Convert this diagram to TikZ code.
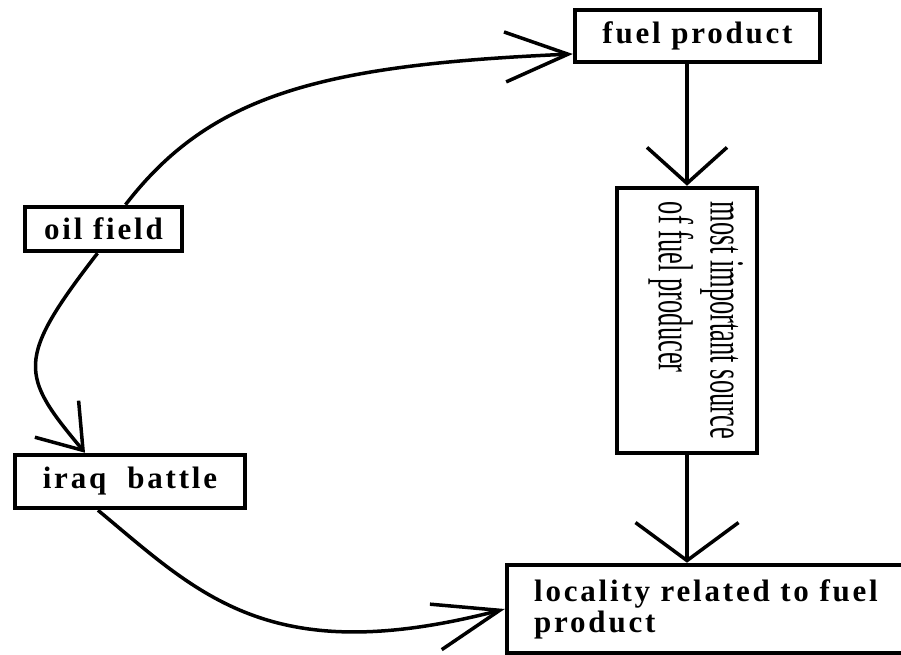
\documentclass[tikz,border=0pt]{standalone}
\usepackage{fontspec}
\setmainfont{Liberation Serif}
\newfontfamily\boxfont[LetterSpace=9]{Liberation Serif}
\usepackage{tikz}
\usetikzlibrary{arrows.meta}
\tikzset{
  fuelbox/.style={draw, line width=4.5pt, fill=white, inner sep=0pt,
                  font=\boxfont\bfseries\fontsize{31}{31}\selectfont},
  fuelsrc/.style={fuelbox, font=\rmfamily\mdseries\fontsize{26.5}{28}\selectfont},
  fuellink/.style={line width=3.5pt, -{Straight Barb[length=36pt, width=80pt]}},
}

\begin{document}
\begin{tikzpicture}[x=1pt, y=1pt]
\useasboundingbox (0,0) rectangle (901,655);
\clip (0,0) rectangle (901,655);
\node[fuelbox, minimum width=157pt, minimum height=44pt] (oil) at (103.5,426) {oil field};
\node[fuelbox, minimum width=230pt, minimum height=53pt] (iraq) at (130,173.5) {iraq\ \ battle};
\node[fuelbox, minimum width=245pt, minimum height=52pt] (fuel) at (697.5,619) {fuel product};
\node[fuelsrc, minimum width=140pt, minimum height=265pt] (src) at (687,334.5)
  {\hspace*{16pt}\rotatebox{-90}{\scalebox{1}[1.85]{\begin{tabular}{@{}l@{}}most important source\\ of fuel producer\end{tabular}}}};
\node[fuelbox, minimum width=398pt, minimum height=88pt, align=left] (loc) at (706,46) {locality related to fuel\\product};

\draw[fuellink, -{Straight Barb[length=63pt, width=50pt]}] ([xshift=22pt]oil.north) .. controls (210,560) and (320,590) .. ([yshift=-18pt]fuel.west);
\draw[fuellink, -{Straight Barb[length=41pt, width=57pt]}] ([xshift=-6pt]oil.south) .. controls (15,295) and (20,280) .. ([xshift=-45pt]iraq.north);
\draw[fuellink] (src.north |- fuel.south) -- (src.north);
\draw[fuellink, -{Straight Barb[length=38pt, width=103pt]}] (src.south) -- (src.south |- loc.north);
\draw[fuellink, -{Straight Barb[length=66pt, width=47pt]}] ([xshift=-32pt]iraq.south) .. controls (200,60) and (270,-15) .. (loc.west);
\end{tikzpicture}
\end{document}
